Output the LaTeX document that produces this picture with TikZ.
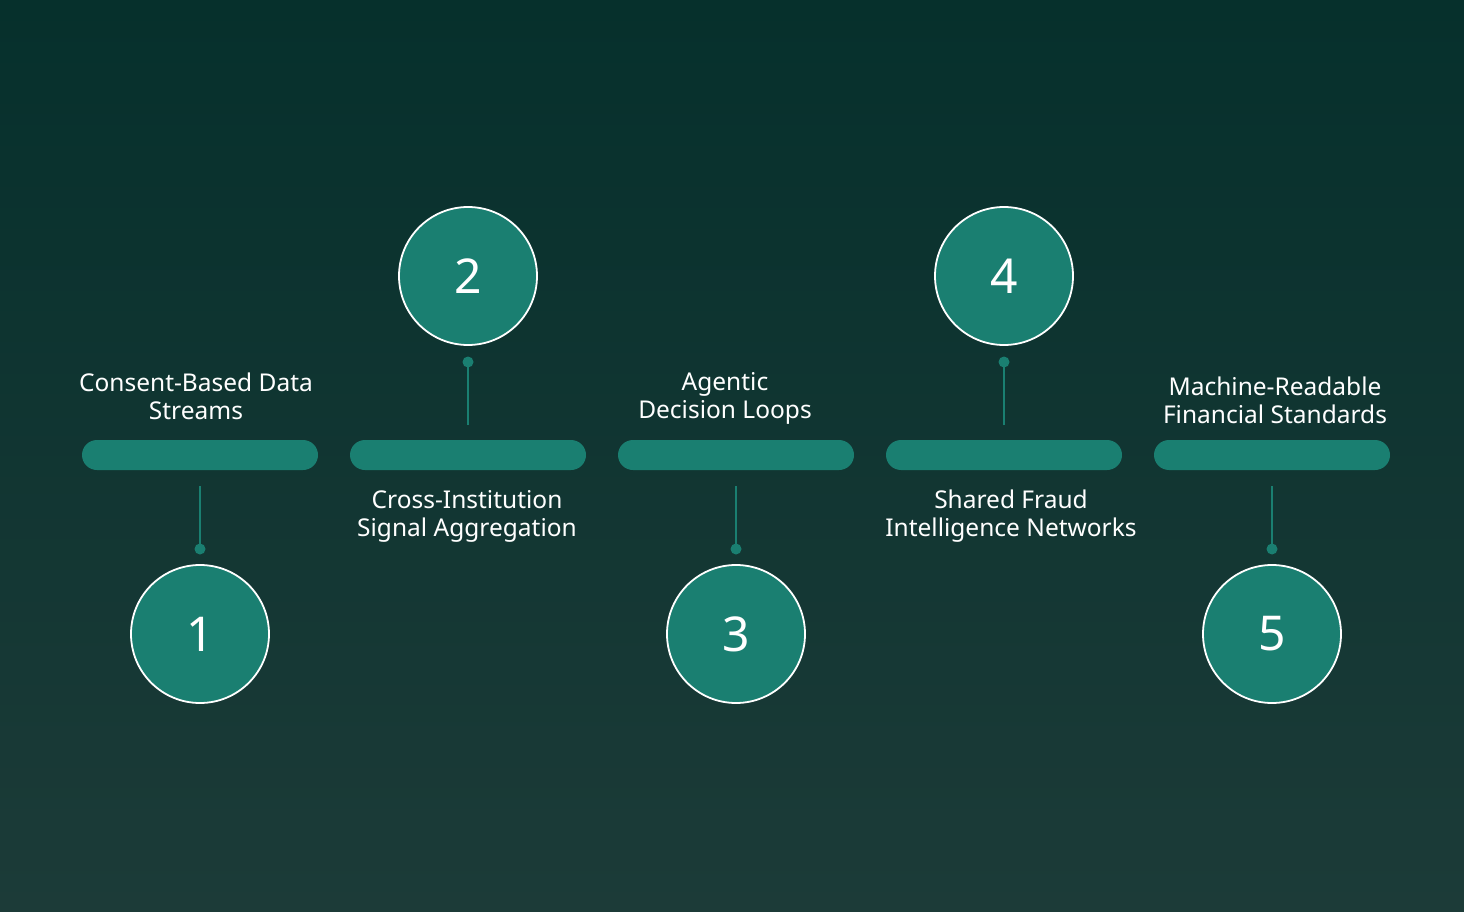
\documentclass[tikz,border=0pt]{standalone}
\usepackage{fontspec}
\setmainfont{Noto Sans}
\definecolor{bgtop}{HTML}{06302C}
\definecolor{bgbot}{HTML}{1C3B38}
\definecolor{teal}{HTML}{1A7F71}
\tikzset{
  numcirc/.style={circle, minimum size=138pt, inner sep=0pt, fill=teal, draw=white, line width=1.8pt, text=white, font=\fontsize{48}{52}\selectfont},
  barbox/.style={rounded corners=15pt, fill=teal, minimum width=236pt, minimum height=30pt, inner sep=0pt},
  lbl/.style={text=white, align=center, font=\fontsize{24.5}{28}\selectfont},
  conn/.style={draw=teal, line width=2pt},
  pin/.style={circle, fill=teal, minimum size=11pt, inner sep=0pt}
}
\begin{document}
\begin{tikzpicture}[x=1pt,y=-1pt]
\shade[top color=bgtop, bottom color=bgbot] (0,0) rectangle (1464,912);
\useasboundingbox (0,0) rectangle (1464,912);
% bars
\foreach \i/\x in {1/200,2/468,3/736,4/1004,5/1272}{
  \node[barbox] (bar\i) at (\x,455) {};
}
% circles
\node[numcirc] (c1) at (200,634) {1};
\node[numcirc] (c2) at (468,276) {2};
\node[numcirc] (c3) at (736,634) {3};
\node[numcirc] (c4) at (1004,276) {4};
\node[numcirc] (c5) at (1272,634) {5};
% pins
\node[pin] (p1) at (200,549) {};
\node[pin] (p2) at (468,362) {};
\node[pin] (p3) at (736,549) {};
\node[pin] (p4) at (1004,362) {};
\node[pin] (p5) at (1272,549) {};
\coordinate (t1) at (200,486);
\coordinate (t2) at (468,425);
\coordinate (t3) at (736,486);
\coordinate (t4) at (1004,425);
\coordinate (t5) at (1272,486);
\foreach \i in {1,...,5}{ \draw[conn] (t\i) -- (p\i.center); }
% labels
\node[lbl] (l1) at (196,396) {Consent-Based Data\\Streams};
\node[lbl] (l2) at (467,516) {Cross-Institution\\Signal Aggregation};
\node[lbl] (l3) at (725,398) {Agentic\\Decision Loops};
\node[lbl] (l4) at (1011,516) {Shared Fraud\\Intelligence Networks};
\node[lbl] (l5) at (1275,400) {Machine-Readable\\Financial Standards};
\end{tikzpicture}
\end{document}
